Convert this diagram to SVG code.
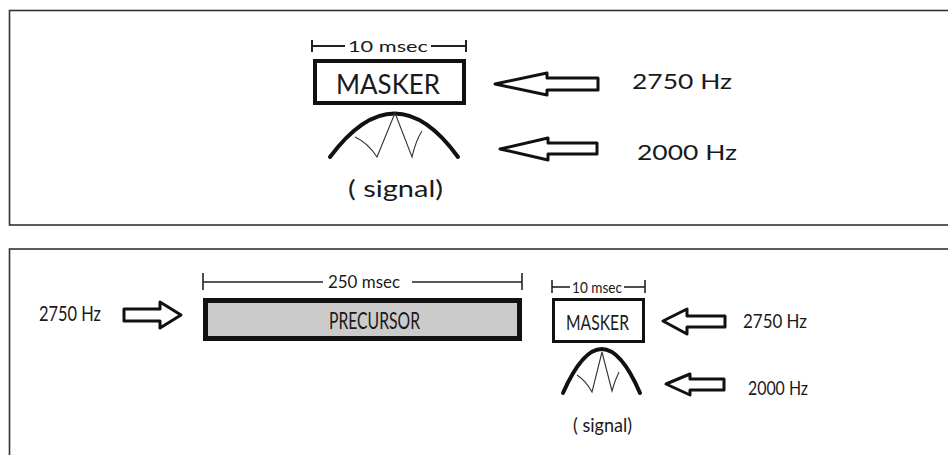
<svg xmlns="http://www.w3.org/2000/svg" width="948" height="455" viewBox="0 0 948 455">
<style>
.panel{fill:#ffffff;stroke:#333333;stroke-width:1.6}
.box{fill:#ffffff;stroke:#111111}
.t{font-family:"Lato","Open Sans","Liberation Sans",sans-serif;fill:#1a1a1a}
.dim{stroke:#222222;fill:none}
.arrow{fill:#ffffff;stroke:#111111;stroke-width:3;stroke-linejoin:round}
.arch{fill:none;stroke:#111111;stroke-width:4;stroke-linecap:round}
.thin{fill:none;stroke:#333333;stroke-width:1.1}
</style>
<rect x="0" y="0" width="948" height="455" fill="#ffffff"/>
<rect class="panel" x="9.5" y="10.5" width="950" height="214.5"/>
<rect class="panel" x="9.5" y="249" width="950" height="220"/>

<g id="top-masker">
  <g class="dim" stroke-width="2">
    <line x1="312" y1="40" x2="312" y2="52"/>
    <line x1="466" y1="40" x2="466" y2="52"/>
    <line x1="312" y1="46" x2="345" y2="46"/>
    <line x1="431" y1="46" x2="466" y2="46"/>
  </g>
  <text class="t" x="348" y="52" font-size="16" textLength="80" lengthAdjust="spacingAndGlyphs">10 msec</text>
  <rect class="box" x="315" y="61" width="149" height="42" stroke-width="4"/>
  <text class="t" x="336" y="94" font-size="26" textLength="104" lengthAdjust="spacingAndGlyphs">MASKER</text>
</g>

<g id="top-signal">
  <path class="arch" d="M330,157 Q395,70 458,157"/>
  <path class="thin" d="M355,137 Q368,143 377,157 L395,113 L412,157 Q416,140 422,131"/>
  <text class="t" x="348" y="197" font-size="23" textLength="95" lengthAdjust="spacingAndGlyphs">( signal)</text>
</g>

<g id="top-label-2750">
  <text class="t" x="632" y="89" font-size="21" textLength="100" lengthAdjust="spacingAndGlyphs">2750 Hz</text>
</g>
<g id="top-label-2000">
  <text class="t" x="637" y="160" font-size="21" textLength="100" lengthAdjust="spacingAndGlyphs">2000 Hz</text>
</g>

<g id="bottom-label-left">
  <text class="t" x="39" y="321" font-size="21" textLength="62" lengthAdjust="spacingAndGlyphs">2750 Hz</text>
</g>

<g id="precursor">
  <g class="dim" stroke-width="1.6">
    <line x1="203" y1="273" x2="203" y2="290"/>
    <line x1="522" y1="273" x2="522" y2="290"/>
    <line x1="203" y1="282" x2="323" y2="282"/>
    <line x1="412" y1="282" x2="522" y2="282"/>
  </g>
  <text class="t" x="328" y="288" font-size="18" textLength="72" lengthAdjust="spacingAndGlyphs">250 msec</text>
  <rect x="205.5" y="300.5" width="314" height="38" fill="#cbcbcb" stroke="#111111" stroke-width="5"/>
  <text class="t" x="329" y="329" font-size="23" textLength="91" lengthAdjust="spacingAndGlyphs">PRECURSOR</text>
</g>

<g id="bottom-masker">
  <g class="dim" stroke-width="1.6">
    <line x1="552" y1="280" x2="552" y2="293"/>
    <line x1="645" y1="280" x2="645" y2="293"/>
    <line x1="552" y1="287" x2="570" y2="287"/>
    <line x1="624" y1="287" x2="645" y2="287"/>
  </g>
  <text class="t" x="572" y="293" font-size="15" textLength="50" lengthAdjust="spacingAndGlyphs">10 msec</text>
  <rect class="box" x="553.5" y="299.5" width="90" height="42" stroke-width="3"/>
  <text class="t" x="566" y="330" font-size="22" textLength="63" lengthAdjust="spacingAndGlyphs">MASKER</text>
</g>

<g id="bottom-signal">
  <path class="arch" d="M563,393 Q602,305 640,393"/>
  <path class="thin" d="M577,375 Q586,381 592,392 L602,352 L612,391 Q615,380 619,372"/>
  <text class="t" x="573" y="432" font-size="20" textLength="59" lengthAdjust="spacingAndGlyphs">( signal)</text>
</g>

<g id="bottom-label-2750">
  <text class="t" x="743" y="328" font-size="20" textLength="64" lengthAdjust="spacingAndGlyphs">2750 Hz</text>
</g>
<g id="bottom-label-2000">
  <text class="t" x="748" y="395" font-size="20" textLength="60" lengthAdjust="spacingAndGlyphs">2000 Hz</text>
</g>

<g id="connectors">
  <path class="arrow" d="M495,84 L547,73 L547,78 L598,78 L598,90 L547,90 L547,95 Z"/>
  <path class="arrow" d="M500,149 L548,138 L548,143 L597,143 L597,154 L548,154 L548,160 Z"/>
  <path class="arrow" d="M181,315 L160,302 L160,309 L124,309 L124,321 L160,321 L160,328 Z"/>
  <path class="arrow" d="M663,321 L687,309 L687,316 L725,316 L725,327 L687,327 L687,334 Z"/>
  <path class="arrow" d="M666,384 L690,374 L690,379 L724,379 L724,390 L690,390 L690,395 Z"/>
</g>
</svg>
